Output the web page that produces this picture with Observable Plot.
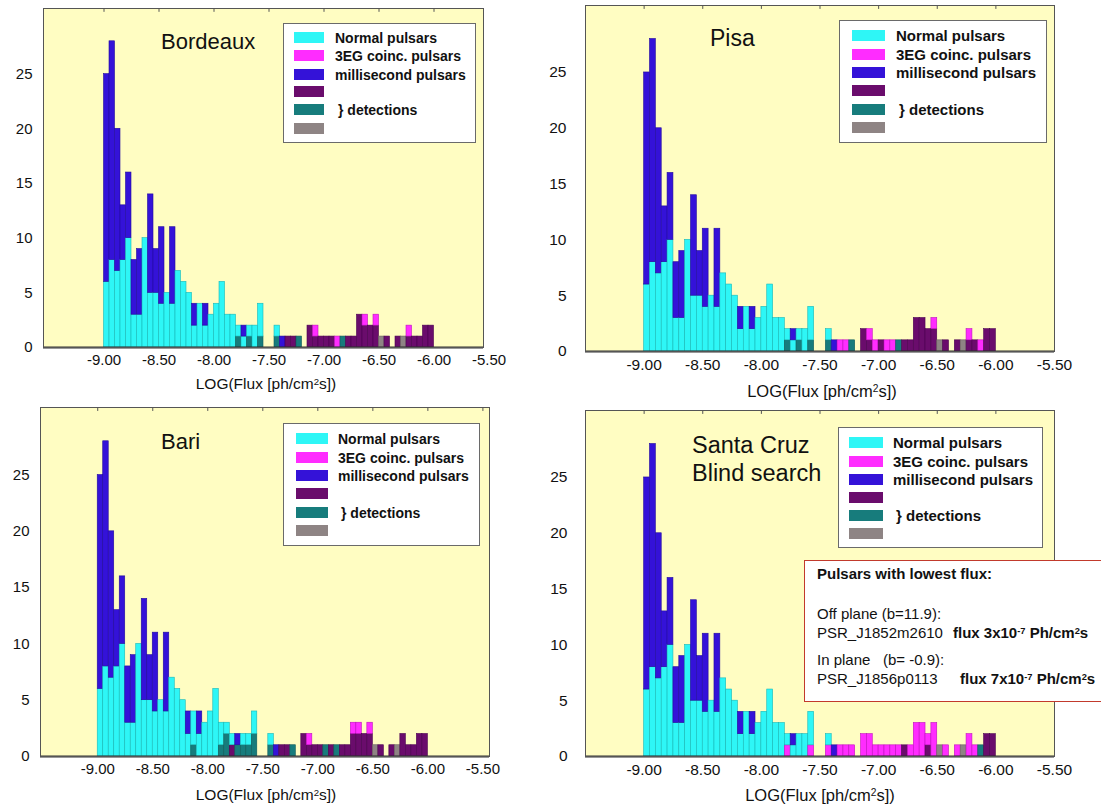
<!DOCTYPE html>
<html><head><meta charset="utf-8">
<script src="https://cdn.jsdelivr.net/npm/d3@7"></script>
<script src="https://cdn.jsdelivr.net/npm/@observablehq/plot@0.6"></script>
<style>
body{margin:0;background:#fff;font-family:"Liberation Sans",Arial,Helvetica,sans-serif;color:#111;}
#root{position:relative;width:1101px;height:806px;overflow:hidden;background:#fff;}
.panel{position:absolute;}
.panel svg{display:block;}
.title{position:absolute;line-height:28px;color:#111;white-space:nowrap;}
.legend{position:absolute;background:#fff;border:1px solid #6a6a6a;box-sizing:border-box;}
.sw{position:absolute;height:11px;}
.lt{position:absolute;font-weight:bold;white-space:nowrap;line-height:16px;color:#111;}
.xlabel{position:absolute;white-space:nowrap;transform:translateX(-50%);line-height:18px;}
sup{vertical-align:baseline;position:relative;top:-0.45em;line-height:0;font-size:62%;}
.note{position:absolute;background:#fff;border:1.5px solid #c23a2c;box-sizing:border-box;font-size:15px;}
.note div{position:absolute;white-space:nowrap;line-height:16px;}
</style></head>
<body><div id="root"></div>
<script>
// ---------------- data ----------------
// histogram bins: left edges, width 0.05 in LOG(Flux)
const binWidth = 0.05;
const binStarts = d3.range(60).map(i => +(-9 + i * binWidth).toFixed(2));
// counts per bin (all pulsars of each class)
const normalCounts = [6,8,7,8,10,3,3,10,5,5, 4,5,4,7,6,5,2,4,2,3, 4,6,3,3,1,1,2,2,3,0, 0,1,0,0,0,0,0,0,0,0, 0,0,0,0,0,0,0,0,0,0, 0,0,0,0,0,0,0,0,0,0];
const coincCounts  = [0,0,0,0,0,0,0,0,0,0, 0,0,0,0,0,0,0,0,0,0, 0,0,0,0,1,0,0,0,1,0, 0,1,0,1,1,1,0,2,2,1, 1,1,1,1,1,1,3,3,2,3, 1,1,0,1,1,2,1,1,2,2];
const msCounts     = [19,20,13,5,6,5,6,0,9,4, 7,0,7,0,0,0,2,0,2,0, 0,0,0,0,0,1,0,0,0,0, 0,0,1,0,0,0,0,0,0,0, 0,0,0,0,0,0,0,0,0,0, 0,0,0,0,0,0,0,0,0,0];
// detections per site: [bin left edge, count]
const bordeauxPurple = [[-7.35,1],[-7.30,1],[-7.15,2],[-7.10,1],[-7.05,1],[-7.00,1],[-6.95,1],[-6.80,1],[-6.75,1],[-6.70,3],[-6.65,2],[-6.60,2],[-6.55,2],[-6.45,1],[-6.35,1],[-6.25,1],[-6.20,1],[-6.15,1],[-6.10,2],[-6.05,2]];
const bordeauxTeal   = [[-7.80,1],[-7.70,1],[-7.60,1],[-7.45,1],[-7.25,1],[-6.85,1]];
const bordeauxGray   = [[-6.50,1],[-6.30,1]];
const pisaPurple = [[-7.15,2],[-7.10,1],[-7.00,1],[-6.80,1],[-6.75,1],[-6.70,3],[-6.65,3],[-6.60,2],[-6.55,2],[-6.45,1],[-6.35,1],[-6.25,1],[-6.20,1],[-6.10,2],[-6.05,2]];
const pisaTeal   = [[-7.80,1],[-7.70,1],[-7.60,1],[-7.45,1],[-7.25,1],[-6.85,1]];
const pisaGray   = [[-6.50,1],[-6.30,1]];
const bariPurple = [[-7.80,1],[-7.35,1],[-7.30,1],[-7.15,2],[-7.10,1],[-7.05,1],[-7.00,1],[-6.90,1],[-6.80,1],[-6.75,1],[-6.70,2],[-6.65,2],[-6.60,2],[-6.55,2],[-6.45,1],[-6.35,1],[-6.25,2],[-6.20,1],[-6.15,1],[-6.10,2],[-6.05,2]];
const bariTeal   = [[-8.15,1],[-7.90,1],[-7.85,2],[-7.75,1],[-7.70,1],[-7.65,1],[-7.60,2],[-7.45,1],[-7.25,1],[-6.95,1],[-6.85,1]];
const bariGray   = [[-6.50,1],[-6.30,1]];
const santaCruzPurple = [[-6.80,1],[-6.60,1],[-6.10,2],[-6.05,2]];
const santaCruzTeal   = [[-6.15,1]];
const santaCruzGray   = [[-6.50,1],[-6.30,1]];

const sites = ["Bordeaux", "Pisa", "Bari", "Santa Cruz"];
const siteTitles = [["Bordeaux"], ["Pisa"], ["Bari"], ["Santa Cruz", "Blind search"]];
const seriesKeys   = ["purple", "teal", "gray", "coinc", "normal", "ms"];
const seriesColors = ["#6a0c6c", "#177c7c", "#8e8484", "#ff2cff", "#2ef6f6", "#3412d8"];
const seriesEdges  = ["#4a0050", "#0d5a5a", "#6a6060", "#c010c0", "#18b8b8", "#220aa0"];
const legendKeys   = ["normal", "coinc", "ms", "purple", "teal", "gray"];
const legendLabels = ["Normal pulsars", "3EG coinc. pulsars", "millisecond pulsars", "", "} detections", ""];
const xTicks = [-9.0, -8.5, -8.0, -7.5, -7.0, -6.5, -6.0, -5.5];
const yTicks = [0, 5, 10, 15, 20, 25];
const xLabel = "LOG(Flux [ph/cm<sup>2</sup>s])";
const noteLines = [
  ["<b>Pulsars with lowest flux:</b>"],
  ["Off plane (b=11.9):"],
  ["PSR_J1852m2610", "<b>flux 3x10<sup>-7</sup> Ph/cm<sup>2</sup>s</b>"],
  ["In plane &nbsp;&nbsp;(b= -0.9):"],
  ["PSR_J1856p0113", "<b>flux 7x10<sup>-7</sup> Ph/cm<sup>2</sup>s</b>"]
];

const detections = {
  "Bordeaux":   {purple: bordeauxPurple, teal: bordeauxTeal, gray: bordeauxGray},
  "Pisa":       {purple: pisaPurple, teal: pisaTeal, gray: pisaGray},
  "Bari":       {purple: bariPurple, teal: bariTeal, gray: bariGray},
  "Santa Cruz": {purple: santaCruzPurple, teal: santaCruzTeal, gray: santaCruzGray}
};

// ---------------- layout ----------------
const layout = {
  "Bordeaux":   {left: 0,   top: 0,   h: 400, ml: 43, mr: 67, mt: 8,  mb: 53, yp: 11, xd: [-9.55, -5.55],
                 tick: 15, tf: 22, lf: 14, xf: 15.5, swW: 30,
                 title: [161, 42], legend: [283, 23, 193, 120], sw: 10, tx: 51, rows: [37,55,74,91,109,128], xl: [266, 385]},
  "Pisa":       {left: 550, top: 0,   h: 400, ml: 35, mr: 46, mt: 5,  mb: 49, yp: 19, xd: [-9.5, -5.5],
                 tick: 15.5, tf: 23, lf: 15, xf: 16.5, swW: 33,
                 title: [160, 38], legend: [289, 20, 208, 123], sw: 12, tx: 56, rows: [35,54,72,90,109,127], xl: [272, 392]},
  "Bari":       {left: 0,   top: 400, h: 406, ml: 40, mr: 61, mt: 7,  mb: 50, yp: 11, xd: [-9.52, -5.44],
                 tick: 15, tf: 22, lf: 14, xf: 15.5, swW: 32,
                 title: [161, 42], legend: [283, 23, 197, 123], sw: 12, tx: 54, rows: [38,57,75,93,112,130], xl: [266, 396]},
  "Santa Cruz": {left: 550, top: 400, h: 406, ml: 35, mr: 46, mt: 10, mb: 50, yp: 18, xd: [-9.5, -5.5],
                 tick: 15.5, tf: 23.5, lf: 15, xf: 16.5, swW: 34,
                 title: [142, 45], legend: [288, 27, 205, 121], sw: 10, tx: 54, rows: [42,61,79,97,115,133], xl: [270, 396]}
};

function buildRows(site) {
  const det = detections[site];
  const dcount = {};
  for (const k of ["purple", "teal", "gray"]) {
    dcount[k] = new Array(binStarts.length).fill(0);
    for (const [b, c] of det[k]) {
      const i = binStarts.findIndex(v => Math.abs(v - b) < 1e-6);
      if (i >= 0) dcount[k][i] += c;
    }
  }
  const rows = [];
  binStarts.forEach((x1, i) => {
    let rem = dcount.purple[i] + dcount.teal[i] + dcount.gray[i];
    let coinc = coincCounts[i], normal = normalCounts[i], ms = msCounts[i];
    let t = Math.min(rem, coinc); coinc -= t; rem -= t;
    t = Math.min(rem, normal); normal -= t; rem -= t;
    t = Math.min(rem, ms); ms -= t; rem -= t;
    const seg = {purple: dcount.purple[i], teal: dcount.teal[i], gray: dcount.gray[i], coinc, normal, ms};
    let y = 0;
    for (const k of seriesKeys) {
      if (seg[k] > 0) {
        rows.push({x1, x2: +(x1 + binWidth).toFixed(2), y1: y, y2: y + seg[k], series: k});
        y += seg[k];
      }
    }
  });
  return rows;
}

const root = document.getElementById("root");
sites.forEach((site, si) => {
  const L = layout[site];
  const div = document.createElement("div");
  div.className = "panel";
  div.style.left = L.left + "px"; div.style.top = L.top + "px";
  div.style.width = "550px"; div.style.height = L.h + "px";
  root.appendChild(div);
  const rows = buildRows(site);
  const chart = Plot.plot({
    width: 550, height: L.h,
    marginLeft: L.ml, marginRight: L.mr, marginTop: L.mt, marginBottom: L.mb,
    x: {type: "linear", domain: L.xd},
    y: {type: "linear", domain: [0, 31]},
    color: {domain: seriesKeys, range: seriesColors},
    style: {fontFamily: '"Liberation Sans", Arial, Helvetica, sans-serif', fontSize: L.tick + "px", color: "#111", background: "transparent", overflow: "visible"},
    marks: [
      Plot.frame({fill: "#fffdc2", stroke: null}),
      Plot.rect(rows, {x1: "x1", x2: "x2", y1: "y1", y2: "y2", fill: "series",
        stroke: d => seriesEdges[seriesKeys.indexOf(d.series)], strokeWidth: 0.6}),
      Plot.ruleY([0], {stroke: "#333", strokeWidth: 2}),
      Plot.frame({stroke: "#555", strokeWidth: 1}),
      Plot.ruleX(xTicks.filter(v => v > L.xd[0] && v < L.xd[1]), {y1: 31, y2: 30.65, stroke: "#555", strokeWidth: 1}),
      Plot.axisX(xTicks, {tickSize: 0, tickPadding: 7, tickFormat: d => d.toFixed(2), label: null, fontSize: L.tick}),
      Plot.axisY(yTicks, {tickSize: 0, tickPadding: L.yp, label: null, fontSize: L.tick})
    ]
  });
  div.appendChild(chart);

  // title
  const t = document.createElement("div");
  t.className = "title";
  t.style.fontSize = L.tf + "px";
  t.style.left = L.title[0] + "px"; t.style.top = (L.title[1] - 14) + "px";
  t.innerHTML = siteTitles[si].join("<br>");
  div.appendChild(t);

  // legend
  const lg = document.createElement("div");
  lg.className = "legend";
  const [lx, ly, lw, lh] = L.legend;
  lg.style.left = lx + "px"; lg.style.top = ly + "px"; lg.style.width = lw + "px"; lg.style.height = lh + "px";
  legendKeys.forEach((k, i) => {
    const ry = L.rows[i] - ly;
    const s = document.createElement("div");
    s.className = "sw";
    s.style.width = L.swW + "px";
    s.style.left = L.sw + "px"; s.style.top = (ry - 6) + "px";
    s.style.background = seriesColors[seriesKeys.indexOf(k)];
    lg.appendChild(s);
    if (legendLabels[i]) {
      const tx = document.createElement("div");
      tx.className = "lt";
      tx.style.fontSize = L.lf + "px";
      tx.style.left = (L.tx + (legendLabels[i].startsWith("}") ? 3 : 0)) + "px";
      tx.style.top = (ry - 8) + "px";
      tx.textContent = legendLabels[i];
      lg.appendChild(tx);
    }
  });
  div.appendChild(lg);

  // x label
  const xl = document.createElement("div");
  xl.className = "xlabel";
  xl.style.fontSize = L.xf + "px";
  xl.style.left = L.xl[0] + "px"; xl.style.top = (L.xl[1] - 10) + "px";
  xl.innerHTML = xLabel;
  div.appendChild(xl);

  // note box (Santa Cruz)
  if (site === "Santa Cruz") {
    const nb = document.createElement("div");
    nb.className = "note";
    nb.style.left = "254px"; nb.style.top = "160px"; nb.style.width = "330px"; nb.style.height = "142px";
    const ys = [5, 45, 64, 91, 110];
    noteLines.forEach((ln, i) => {
      const a = document.createElement("div");
      a.style.left = "12px"; a.style.top = ys[i] + "px";
      a.innerHTML = ln[0];
      nb.appendChild(a);
      if (ln[1]) {
        const b = document.createElement("div");
        b.style.left = (i === 2 ? 148 : 155) + "px"; b.style.top = ys[i] + "px";
        b.innerHTML = ln[1];
        nb.appendChild(b);
      }
    });
    div.appendChild(nb);
  }
});
</script>
</body></html>
